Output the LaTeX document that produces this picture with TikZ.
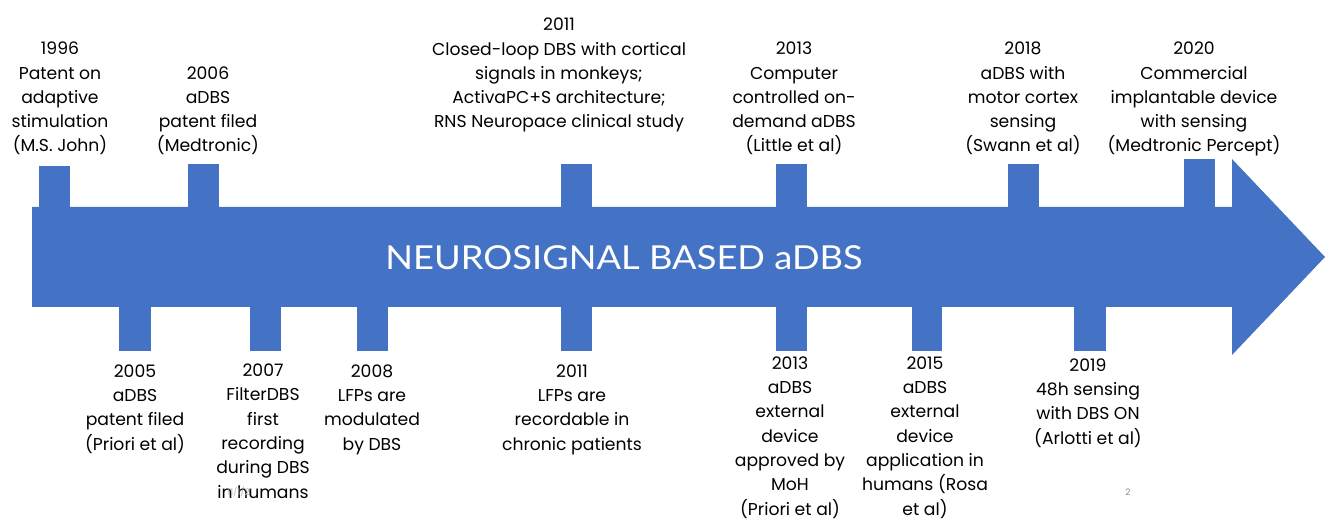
\documentclass[tikz,border=0pt]{standalone}
\usepackage{fontspec}
\setmainfont{Poppins}
\newfontfamily\bannerfont[FakeStretch=1.1]{Lato}
\definecolor{tlblue}{HTML}{4472C4}
\begin{document}
\begin{tikzpicture}[x=1pt,y=-1pt,
  lbl/.style={align=center, inner sep=0pt, anchor=base, text=black,
    font=\fontsize{17.2}{24.3}\selectfont},
  tab/.style={fill=tlblue, draw=none}]
\useasboundingbox (0,0) rectangle (1333,521);
% main arrow
\fill[tlblue] (32,207) -- (1232,207) -- (1232,159) -- (1325,257) -- (1232,355)
  -- (1232,307) -- (32,307) -- cycle;
% top tabs
\fill[tab] (39,166) rectangle (70,208);
\fill[tab] (188,164) rectangle (219,208);
\fill[tab] (561,164) rectangle (592,208);
\fill[tab] (776,164) rectangle (807,208);
\fill[tab] (1008,164) rectangle (1039,208);
\fill[tab] (1184,159) rectangle (1215,208);
% bottom tabs
\fill[tab] (119,306) rectangle (151,351);
\fill[tab] (250,306) rectangle (281,351);
\fill[tab] (357,306) rectangle (388,351);
\fill[tab] (561,306) rectangle (592,351);
\fill[tab] (776,306) rectangle (807,351);
\fill[tab] (912,306) rectangle (942,351);
\fill[tab] (1074,306) rectangle (1106,351);
% banner text
\node[text=white, inner sep=0pt, font=\bannerfont\fontsize{33}{36}\selectfont] (title) at (624,258) {NEUROSIGNAL BASED aDBS};
% top labels (anchor base = last line baseline)
\node[lbl] (t1996) at (60,152) {1996\\Patent on\\adaptive\\stimulation\\(M.S. John)};
\node[lbl] (t2006) at (208,152) {2006\\aDBS\\patent filed\\(Medtronic)};
\node[lbl] (t2011) at (559,128) {2011\\Closed-loop DBS with cortical\\signals in monkeys;\\ActivaPC+S architecture;\\RNS Neuropace clinical study};
\node[lbl] (t2013) at (794,152) {2013\\Computer\\controlled on-\\demand aDBS\\(Little et al)};
\node[lbl] (t2018) at (1023,152) {2018\\aDBS with\\motor cortex\\sensing\\(Swann et al)};
\node[lbl] (t2020) at (1194,152) {2020\\Commercial\\implantable device\\with sensing\\(Medtronic Percept)};
% bottom labels
\node[lbl] (b2005) at (135,450) {2005\\aDBS\\patent filed\\(Priori et al)};
\node[lbl] (b2007) at (263,498) {2007\\FilterDBS\\first\\recording\\during DBS\\in humans};
\node[lbl] (b2008) at (372,450) {2008\\LFPs are\\modulated\\by DBS};
\node[lbl] (b2011) at (572,450) {2011\\LFPs are\\recordable in\\chronic patients};
\node[lbl] (b2013) at (790,515) {2013\\aDBS\\external\\device\\approved by\\MoH\\(Priori et al)};
\node[lbl] (b2015) at (925,515) {2015\\aDBS\\external\\device\\application in\\humans (Rosa\\et al)};
\node[lbl] (b2019) at (1088,444) {2019\\48h sensing\\with DBS ON\\(Arlotti et al)};
% footer
\node[text=black!45, inner sep=0pt, font=\fontsize{9}{10}\selectfont] (pg) at (1128,492) {2};
\node[text=black!30, inner sep=0pt, font=\fontsize{9}{10}\selectfont] (dt) at (240,492) {11/1/21};
\end{tikzpicture}
\end{document}
